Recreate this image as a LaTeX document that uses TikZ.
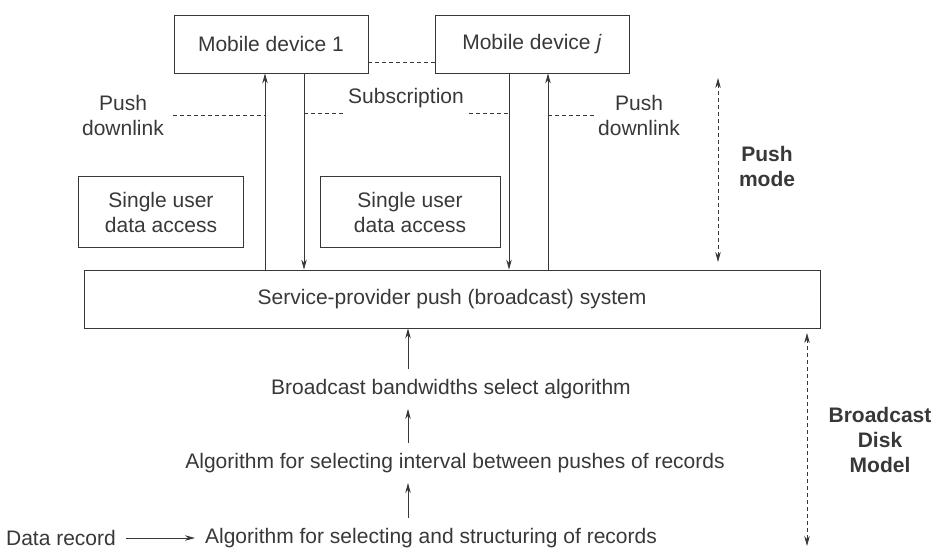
\documentclass[tikz,border=0pt]{standalone}
\usepackage{fontspec}
\setmainfont{Liberation Sans}
\usetikzlibrary{arrows.meta}
\definecolor{ink}{HTML}{383838}
\tikzset{
  box/.style={draw=ink, line width=0.8pt, inner sep=0pt},
  txt/.style={text=ink, font=\fontsize{21}{25}\selectfont, align=center},
  bold/.style={txt, font=\fontsize{21}{25}\selectfont\bfseries},
  link/.style={draw=ink, line width=0.8pt, -{Stealth[length=10pt,width=5.5pt]}},
  dlink/.style={draw=ink, line width=0.7pt, dash pattern=on 4pt off 3pt},
  span/.style={draw=ink, line width=0.7pt, dash pattern=on 4pt off 3pt,
    {Stealth[length=10pt,width=5.5pt]}-{Stealth[length=10pt,width=5.5pt]}},
}
\begin{document}
\begin{tikzpicture}[x=1pt, y=-1pt]
    \useasboundingbox (0,0) rectangle (934,552);
    % devices
    \node[box, txt, minimum width=194pt, minimum height=58pt] (dev1) at (271,44) {Mobile device 1};
    \node[box, txt, minimum width=194pt, minimum height=58pt] (devj) at (532,44) {Mobile device \textit{j}};
    \draw[dlink] ([yshift=-18pt]dev1.east) -- ([yshift=-18pt]devj.west);
    % single user boxes
    \node[box, txt, minimum width=165pt, minimum height=71pt] (su1) at (161,212) {Single user\\data access};
    \node[box, txt, minimum width=180pt, minimum height=71pt] (su2) at (410,212) {Single user\\data access};
    % broadcast system
    \node[box, txt, minimum width=736pt, minimum height=58pt] (svc) at (452,299) {Service-provider push (broadcast) system};
    % up and down links
    \coordinate (u1) at ([xshift=-6pt]dev1.south);
    \coordinate (d1) at ([xshift=33pt]dev1.south);
    \coordinate (dj) at ([xshift=-23pt]devj.south);
    \coordinate (uj) at ([xshift=16pt]devj.south);
    \draw[link] (u1 |- svc.north) -- (u1);
    \draw[link] (d1) -- (d1 |- svc.north);
    \draw[link] (dj) -- (dj |- svc.north);
    \draw[link] (uj |- svc.north) -- (uj);
    % labels of the links
    \node[txt, inner sep=9pt] (pushL) at (123,115) {Push\\downlink};
    \node[txt, inner sep=1pt] (pushR) at (639,115) {Push\\downlink};
    \node[txt, inner sep=5pt] (sub) at (406,98) {Subscription};
    \draw[dlink] (pushL.east) -- (pushL.east -| u1);
    \draw[dlink] (sub.south west -| d1) -- (sub.south west);
    \draw[dlink] (sub.south east) -- (sub.south east -| dj);
    \draw[dlink] (pushR.west -| uj) -- (pushR.west);
    % push mode
    \coordinate (pmtop) at (718,78);
    \coordinate (pmbot) at (718,262);
    \draw[span] (pmtop) -- (pmbot);
    \node[bold] (pm) at (767,166) {Push\\mode};
    % algorithms
    \coordinate (col) at (408,0);
    \node[txt, inner sep=10pt] (bb) at (451,389) {Broadcast bandwidths select algorithm};
    \node[txt, inner sep=10pt] (intv) at (455,463) {Algorithm for selecting interval between pushes of records};
    \node[txt, inner sep=10pt] (strc) at (431,538) {Algorithm for selecting and structuring of records};
    \node[txt, inner sep=10pt] (rec) at (61,538) {Data record};
    \draw[link] (bb.north -| col) -- (svc.south -| col);
    \draw[link] (intv.north -| col) -- (bb.south -| col);
    \draw[link] (strc.north -| col) -- (intv.south -| col);
    \draw[link] (rec.east) -- (strc.west);
    % broadcast disk model
    \coordinate (bdtop) at (807,333);
    \coordinate (bdbot) at (807,546);
    \draw[span] (bdtop) -- (bdbot);
    \node[bold] (bdm) at (880,440) {Broadcast\\Disk\\Model};
\end{tikzpicture}
\end{document}
